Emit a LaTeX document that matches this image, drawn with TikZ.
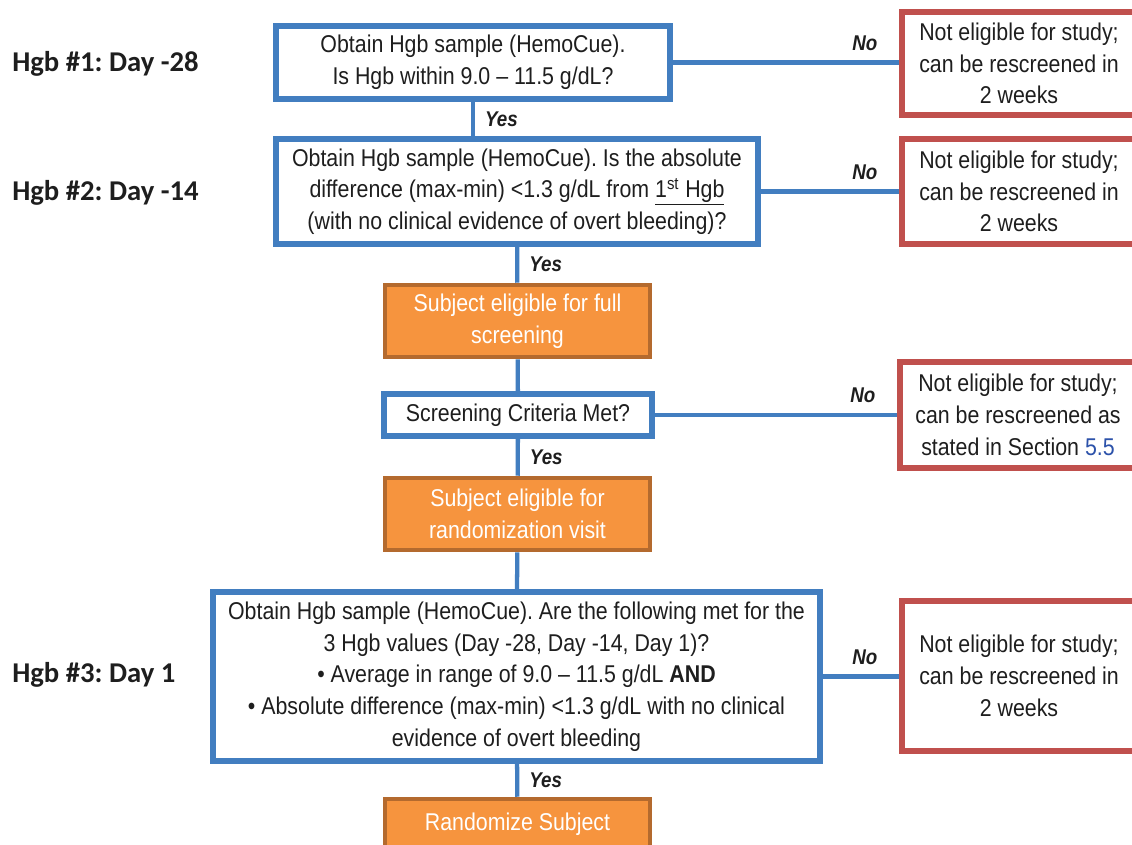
\documentclass[tikz,border=0pt]{standalone}
\usepackage{fontspec}
\setmainfont[FakeStretch=0.88]{Liberation Sans}
\newfontfamily\dayfont{Carlito}
\usetikzlibrary{positioning}
\definecolor{qblue}{RGB}{66,126,192}
\definecolor{nred}{RGB}{192,80,77}
\definecolor{ofill}{RGB}{246,148,62}
\definecolor{oedge}{RGB}{180,106,46}
\definecolor{ink}{RGB}{30,30,30}
\definecolor{seclink}{RGB}{44,82,170}
\frenchspacing

\begin{document}
\begin{tikzpicture}[
  x=0.75pt, y=-0.75pt,
  font=\fontsize{18.2}{23.8}\selectfont, text=ink,
  query/.style={draw=qblue, line width=3.8pt, fill=white, align=center,
    inner sep=0pt},
  stop/.style={draw=nred, line width=3.8pt, fill=white, align=center,
    inner sep=0pt, minimum width=175.5pt},
  pass/.style={draw=oedge, line width=3.4pt, fill=ofill, text=white,
    align=center, inner sep=0pt, minimum width=198.75pt},
  link/.style={draw=qblue, line width=3.2pt},
  yes/.style={font=\fontsize{16}{18}\selectfont\bfseries\itshape,
    anchor=west, inner sep=0pt, xshift=7.5pt},
  no/.style={font=\fontsize{16}{18}\selectfont\bfseries\itshape,
    pos=1, anchor=south east, inner sep=0pt, xshift=-15pt, yshift=7.5pt},
  day/.style={font=\dayfont\bfseries\fontsize{21.5}{24}\selectfont,
    anchor=west, inner sep=0pt}
]
\useasboundingbox (0,0) rectangle (1132,844);
\clip (0,0) rectangle (1132,844);

% left column: visit labels
\node[day] (d1) at (12,64) {Hgb \#1: Day -28};
\node[day] (d2) at (12,193) {Hgb \#2: Day -14};
\node[day] (d3) at (12,675) {Hgb \#3: Day 1};

% main column
\node[query, minimum width=295.5pt, minimum height=54.75pt] (q1) at (473,62.5)
  {Obtain Hgb sample (HemoCue).\\Is Hgb within 9.0 -- 11.5 g/dL?};
\node[query, minimum width=361.5pt, minimum height=78.75pt] (q2) at (517,191.5)
  {Obtain Hgb sample (HemoCue). Is the absolute\\difference (max-min) <1.3 g/dL from \underline{1\textsuperscript{st} Hgb}\\(with no clinical evidence of overt bleeding)?};
\node[pass, minimum height=54pt] (o1) at (517.5,321)
  {Subject eligible for full\\screening};
\node[query, minimum width=201pt, minimum height=31.5pt] (q3) at (518,415)
  {Screening Criteria Met?};
\node[pass, minimum height=54pt] (o2) at (517.5,514)
  {Subject eligible for\\randomization visit};
\node[query, minimum width=455.25pt, minimum height=126.75pt] (q4) at (516.5,676.5)
  {Obtain Hgb sample (HemoCue). Are the following met for the\\3 Hgb values (Day -28, Day -14, Day 1)?\\\textbullet{} Average in range of 9.0 -- 11.5 g/dL \textbf{AND}\\\textbullet{} Absolute difference (max-min) <1.3 g/dL with no clinical\\evidence of overt bleeding};
\node[pass, minimum height=37.5pt] (o3) at (517.5,824)
  {Randomize Subject};

% right column: exits
\node[stop, minimum height=77.25pt] (r1) at (1019,63.5)
  {Not eligible for study;\\can be rescreened in\\2 weeks};
\node[stop, minimum height=78.75pt] (r2) at (1019,191.5)
  {Not eligible for study;\\can be rescreened in\\2 weeks};
\node[stop, minimum width=177pt, minimum height=79.5pt] (r3) at (1018,415)
  {Not eligible for study;\\can be rescreened as\\stated in Section \textcolor{seclink}{5.5}};
\node[stop, minimum height=112.5pt] (r4) at (1019,676)
  {Not eligible for study;\\can be rescreened in\\2 weeks};

% yes path
\draw[link] (q1) -- node[yes] {Yes} (q1 |- q2.north);
\draw[link] (q2) -- node[yes] {Yes} (o1);
\draw[link] (o1) -- (q3);
\draw[link] (q3) -- node[yes] {Yes} (o2);
\draw[link] (o2) -- (q4);
\draw[link] (q4) -- node[yes] {Yes} (o3);

% no exits
\draw[link] (q1.east) -- node[no] {No} (q1.east -| r1.west);
\draw[link] (q2.east) -- node[no] {No} (q2.east -| r2.west);
\draw[link] (q3.east) -- node[no] {No} (q3.east -| r3.west);
\draw[link] (q4.east) -- node[no] {No} (q4.east -| r4.west);
\end{tikzpicture}
\end{document}
